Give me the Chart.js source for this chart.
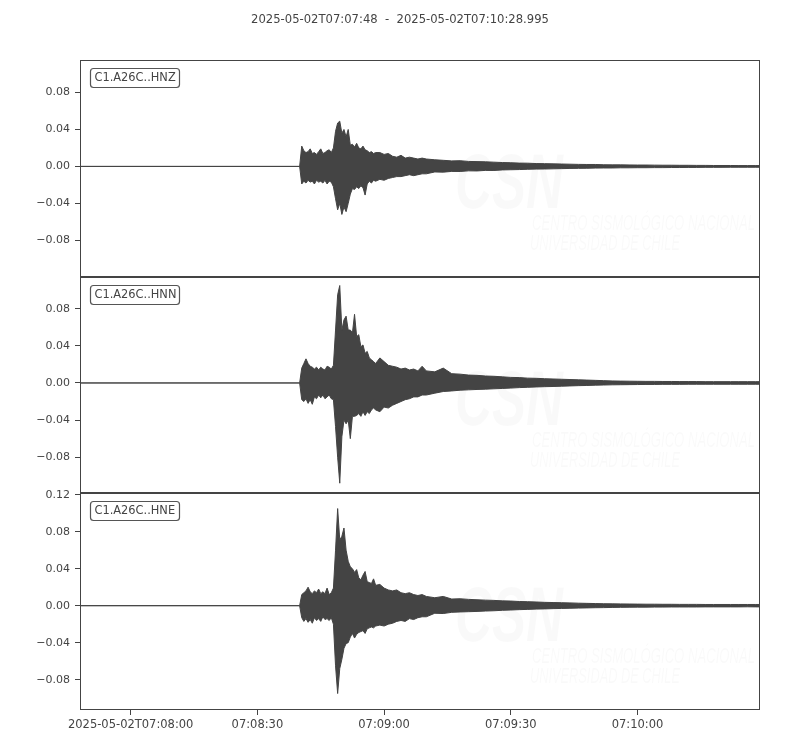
<!DOCTYPE html>
<html>
<head>
<meta charset="utf-8">
<title>C1.A26C</title>
<script src="https://cdn.jsdelivr.net/npm/chart.js@4.4.1/dist/chart.umd.min.js"></script>
<style>
  html, body { margin: 0; padding: 0; background: #fff; }
  #wrap { position: relative; width: 800px; height: 750px; }
</style>
</head>
<body>
<div id="wrap"><canvas id="seis"></canvas></div>
<script>
// trace header + channel names
const TITLE = '2025-05-02T07:07:48  -  2025-05-02T07:10:28.995';
const CHANNELS = ['C1.A26C..HNZ', 'C1.A26C..HNN', 'C1.A26C..HNE'];

// seconds after 07:07:48
const X_TICKS = [12, 42, 72, 102, 132];
const X_TICK_LABELS = ['2025-05-02T07:08:00', '07:08:30', '07:09:00', '07:09:30', '07:10:00'];

const Y_TICKS_Z = [-0.08, -0.04, 0, 0.04, 0.08];
const Y_TICKS_N = [-0.08, -0.04, 0, 0.04, 0.08];
const Y_TICKS_E = [-0.08, -0.04, 0, 0.04, 0.08, 0.12];

// envelope sample times (s) - max / min of the trace around each time
const TIMES = [0,
  52, 52.5, 53, 53.5, 54, 54.5, 55, 55.5, 56, 56.5, 57, 57.5, 58, 58.5, 59, 59.5, 60,
  60.5, 61, 61.5, 62, 62.5, 63, 63.5, 64, 64.5, 65, 65.5, 66, 66.5, 67, 67.5, 68, 68.5, 69, 69.5, 70,
  71, 72, 73, 74, 75, 76, 77, 78, 79, 80, 81, 82,
  84, 86, 88, 90, 92, 94, 96, 98, 100, 102,
  104, 106, 108, 110, 112, 114, 116, 118, 120, 122,
  124, 126, 128, 130, 132, 134, 136, 138, 140, 142,
  144, 146, 148, 150, 152, 154, 156, 158, 160,
  161];

// HNZ
const HNZ_UP = [0,
  0, 0.022, 0.017, 0.015, 0.016, 0.019, 0.014, 0.015, 0.013, 0.016, 0.019, 0.014, 0.015, 0.017, 0.018, 0.015, 0.020,
  0.038, 0.047, 0.049, 0.036, 0.040, 0.032, 0.040, 0.023, 0.024, 0.021, 0.025, 0.020, 0.019, 0.022, 0.018, 0.017, 0.015, 0.016, 0.014, 0.015,
  0.015, 0.013, 0.014, 0.011, 0.010, 0.012, 0.009, 0.010, 0.009, 0.008, 0.009, 0.008,
  0.0072, 0.0066, 0.0060, 0.0062, 0.0054, 0.0052, 0.0050, 0.0046, 0.0042, 0.0040,
  0.0036, 0.0035, 0.0031, 0.0030, 0.0028, 0.0026, 0.0024, 0.0022, 0.0021, 0.0021,
  0.0018, 0.0017, 0.0017, 0.0016, 0.0015, 0.0015, 0.0014, 0.0013, 0.0013, 0.0012,
  0.0012, 0.0011, 0.0011, 0.0010, 0.0010, 0.0010, 0.0009, 0.0009, 0.0009,
  0.0009];
const HNZ_LO = [0,
  0, -0.019, -0.016, -0.018, -0.015, -0.017, -0.016, -0.019, -0.015, -0.017, -0.016, -0.018, -0.015, -0.019, -0.016, -0.017, -0.022,
  -0.035, -0.047, -0.040, -0.052, -0.044, -0.049, -0.040, -0.030, -0.024, -0.025, -0.022, -0.024, -0.021, -0.023, -0.031, -0.019, -0.016, -0.018, -0.015, -0.016,
  -0.014, -0.015, -0.013, -0.012, -0.011, -0.011, -0.010, -0.009, -0.010, -0.009, -0.008, -0.008,
  -0.0060, -0.0062, -0.0054, -0.0055, -0.0048, -0.0049, -0.0043, -0.0044, -0.0038, -0.0036,
  -0.0034, -0.0031, -0.0029, -0.0028, -0.0026, -0.0024, -0.0022, -0.0021, -0.0020, -0.0018,
  -0.0017, -0.0017, -0.0015, -0.0015, -0.0014, -0.0014, -0.0013, -0.0013, -0.0012, -0.0012,
  -0.0011, -0.0011, -0.0010, -0.0010, -0.0010, -0.0009, -0.0009, -0.0009, -0.0009,
  -0.0009];

// HNN
const HNN_UP = [0,
  0, 0.016, 0.021, 0.026, 0.021, 0.018, 0.017, 0.015, 0.017, 0.014, 0.017, 0.015, 0.014, 0.018, 0.017, 0.015, 0.019,
  0.057, 0.095, 0.105, 0.057, 0.068, 0.072, 0.057, 0.057, 0.054, 0.074, 0.050, 0.052, 0.039, 0.041, 0.032, 0.034, 0.027, 0.025, 0.023, 0.021,
  0.027, 0.023, 0.019, 0.018, 0.017, 0.015, 0.016, 0.014, 0.015, 0.013, 0.018, 0.013,
  0.012, 0.016, 0.010, 0.0095, 0.0085, 0.0082, 0.0075, 0.0072, 0.0066, 0.0060,
  0.0058, 0.0052, 0.0050, 0.0046, 0.0043, 0.0040, 0.0037, 0.0034, 0.0031, 0.0028,
  0.0025, 0.0022, 0.0020, 0.0019, 0.0018, 0.0017, 0.0017, 0.0016, 0.0016, 0.0015,
  0.0015, 0.0015, 0.0014, 0.0014, 0.0014, 0.0014, 0.0014, 0.0014, 0.0014,
  0.0014];
const HNN_LO = [0,
  0, -0.018, -0.020, -0.017, -0.022, -0.018, -0.023, -0.015, -0.017, -0.013, -0.016, -0.013, -0.017, -0.015, -0.013, -0.017, -0.018,
  -0.047, -0.080, -0.108, -0.058, -0.040, -0.044, -0.040, -0.060, -0.036, -0.036, -0.035, -0.033, -0.036, -0.031, -0.035, -0.031, -0.033, -0.029, -0.027, -0.029,
  -0.031, -0.026, -0.027, -0.024, -0.022, -0.020, -0.018, -0.017, -0.015, -0.015, -0.013, -0.013,
  -0.011, -0.0092, -0.0086, -0.0078, -0.0074, -0.0070, -0.0067, -0.0063, -0.0059, -0.0055,
  -0.0050, -0.0047, -0.0043, -0.0040, -0.0038, -0.0035, -0.0032, -0.0029, -0.0027, -0.0024,
  -0.0022, -0.0020, -0.0019, -0.0018, -0.0017, -0.0016, -0.0016, -0.0015, -0.0015, -0.0015,
  -0.0014, -0.0014, -0.0014, -0.0014, -0.0014, -0.0014, -0.0014, -0.0014, -0.0014,
  -0.0014];

// HNE
const HNE_UP = [0,
  0, 0.012, 0.014, 0.016, 0.020, 0.015, 0.013, 0.016, 0.014, 0.018, 0.013, 0.015, 0.013, 0.019, 0.012, 0.014, 0.019,
  0.060, 0.105, 0.071, 0.075, 0.084, 0.060, 0.048, 0.042, 0.040, 0.036, 0.039, 0.030, 0.028, 0.033, 0.037, 0.026, 0.025, 0.024, 0.029, 0.022,
  0.023, 0.019, 0.017, 0.016, 0.017, 0.014, 0.013, 0.014, 0.012, 0.011, 0.012, 0.010,
  0.0086, 0.0100, 0.0072, 0.0075, 0.0068, 0.0064, 0.0060, 0.0057, 0.0052, 0.0050,
  0.0045, 0.0043, 0.0040, 0.0036, 0.0034, 0.0032, 0.0030, 0.0027, 0.0025, 0.0023,
  0.0021, 0.0020, 0.0019, 0.0018, 0.0017, 0.0016, 0.0016, 0.0015, 0.0015, 0.0014,
  0.0014, 0.0014, 0.0013, 0.0013, 0.0013, 0.0013, 0.0013, 0.0013, 0.0013,
  0.0013];
const HNE_LO = [0,
  0, -0.013, -0.017, -0.014, -0.018, -0.015, -0.019, -0.013, -0.016, -0.014, -0.017, -0.012, -0.015, -0.014, -0.016, -0.013, -0.020,
  -0.065, -0.095, -0.068, -0.058, -0.046, -0.041, -0.040, -0.034, -0.030, -0.035, -0.031, -0.029, -0.028, -0.027, -0.030, -0.025, -0.024, -0.023, -0.024, -0.022,
  -0.021, -0.022, -0.020, -0.019, -0.017, -0.016, -0.017, -0.014, -0.015, -0.013, -0.012, -0.012,
  -0.0082, -0.0085, -0.0072, -0.0068, -0.0065, -0.0062, -0.0058, -0.0055, -0.0050, -0.0047,
  -0.0043, -0.0040, -0.0037, -0.0035, -0.0032, -0.0030, -0.0028, -0.0026, -0.0024, -0.0022,
  -0.0021, -0.0019, -0.0018, -0.0017, -0.0016, -0.0016, -0.0015, -0.0015, -0.0014, -0.0014,
  -0.0014, -0.0014, -0.0013, -0.0013, -0.0013, -0.0013, -0.0013, -0.0012, -0.0013,
  -0.0013];

const ink = '#444444';
const family = '"DejaVu Sans", sans-serif';
const PANEL_IDS = ['yZ', 'yN', 'yE'];

function fmtAmp(v) {
  if (Math.abs(v) < 1e-9) return '0.00';
  return v.toFixed(2).replace('-', '\u2212');
}

// upper envelope + lower envelope filled between them
function band(up, lo, axis) {
  const common = { yAxisID: axis, borderColor: ink, backgroundColor: ink, borderWidth: 1, pointRadius: 0, tension: 0 };
  return [
    { ...common, data: TIMES.map((t, i) => ({ x: t, y: up[i] })), fill: false },
    { ...common, data: TIMES.map((t, i) => ({ x: t, y: lo[i] })), fill: '-1' }
  ];
}

function yAxis(min, max, ticks) {
  return {
    type: 'linear',
    position: 'left',
    stack: 'traces',
    stackWeight: 1,
    min: min,
    max: max,
    border: { display: false },
    grid: { drawOnChartArea: false, drawTicks: true, tickLength: 5, color: ink },
    ticks: { color: ink, font: { family, size: 11 }, padding: 5, autoSkip: false, callback: v => fmtAmp(v) },
    afterBuildTicks: s => { s.ticks = ticks.map(v => ({ value: v })); },
    afterFit: s => { s.width = 80; }
  };
}

// frames, station labels and the faint CSN watermark
const tracePanels = {
  id: 'tracePanels',
  beforeDatasetsDraw(chart) {
    const { ctx, chartArea } = chart;
    PANEL_IDS.forEach(id => {
      const top = chart.scales[id].top;
      ctx.save();
      ctx.fillStyle = 'rgba(0,0,0,0.025)';
      ctx.textBaseline = 'alphabetic';
      ctx.font = 'italic bold 78px "Liberation Sans Narrow", "Liberation Sans", sans-serif';
      ctx.fillText('CSN', chartArea.left + 375, top + 148, 108);
      ctx.font = 'italic 22px "Liberation Sans Narrow", "Liberation Sans", sans-serif';
      ctx.fillText('CENTRO SISMOLÓGICO NACIONAL', chartArea.left + 452, top + 170, 223);
      ctx.fillText('UNIVERSIDAD DE CHILE', chartArea.left + 450, top + 190, 150);
      ctx.restore();
    });
  },
  afterDraw(chart) {
    const { ctx, chartArea } = chart;
    const x0 = Math.round(chartArea.left) + 0.5;
    const x1 = Math.round(chartArea.right) - 0.5;
    PANEL_IDS.forEach((id, k) => {
      const s = chart.scales[id];
      const y0 = Math.round(s.top) + 0.5;
      const y1 = Math.round(s.bottom) - 0.5;
      ctx.save();
      ctx.strokeStyle = ink;
      ctx.lineWidth = 1;
      ctx.strokeRect(x0, y0, x1 - x0, y1 - y0);

      // station label box
      ctx.beginPath();
      ctx.roundRect(x0 + 10, y0 + 8, 89, 19, 3);
      ctx.fillStyle = '#ffffff';
      ctx.fill();
      ctx.strokeStyle = '#555555';
      ctx.lineWidth = 1.2;
      ctx.stroke();
      ctx.fillStyle = ink;
      ctx.font = '11.4px ' + family;
      ctx.textBaseline = 'middle';
      ctx.fillText(CHANNELS[k], x0 + 14, y0 + 18);
      ctx.restore();
    });
  }
};

new Chart(document.getElementById('seis'), {
  type: 'line',
  data: {
    datasets: [
      ...band(HNZ_UP, HNZ_LO, 'yZ'),
      ...band(HNN_UP, HNN_LO, 'yN'),
      ...band(HNE_UP, HNE_LO, 'yE')
    ]
  },
  options: {
    responsive: true,
    maintainAspectRatio: false,
    animation: false,
    layout: { padding: 0 },
    scales: {
      x: {
        type: 'linear',
        min: 0,
        max: 160.995,
        border: { display: false },
        grid: { drawOnChartArea: false, drawTicks: true, tickLength: 5, color: ink },
        ticks: {
          color: ink,
          font: { family, size: 11.5 },
          padding: 3,
          maxRotation: 0,
          autoSkip: false,
          callback: (v, i) => X_TICK_LABELS[i]
        },
        afterBuildTicks: s => { s.ticks = X_TICKS.map(v => ({ value: v })); },
        afterFit: s => { s.height = 40; }
      },
      // stacked panels: the last one listed ends up on top
      yE: yAxis(-0.1128, 0.1215, Y_TICKS_E),
      yN: yAxis(-0.1189, 0.1146, Y_TICKS_N),
      yZ: yAxis(-0.1193, 0.1153, Y_TICKS_Z),
      // empty right margin so the title stays centred on the page
      gap: {
        type: 'linear',
        position: 'right',
        border: { display: false },
        grid: { display: false },
        ticks: { display: false },
        afterFit: s => { s.width = 40; }
      }
    },
    plugins: {
      legend: { display: false },
      tooltip: { enabled: false },
      title: {
        display: true,
        text: TITLE,
        color: ink,
        font: { family, size: 11.6, weight: 'normal' },
        padding: { top: 13, bottom: 33 }
      }
    }
  },
  plugins: [tracePanels]
});
</script>
</body>
</html>
